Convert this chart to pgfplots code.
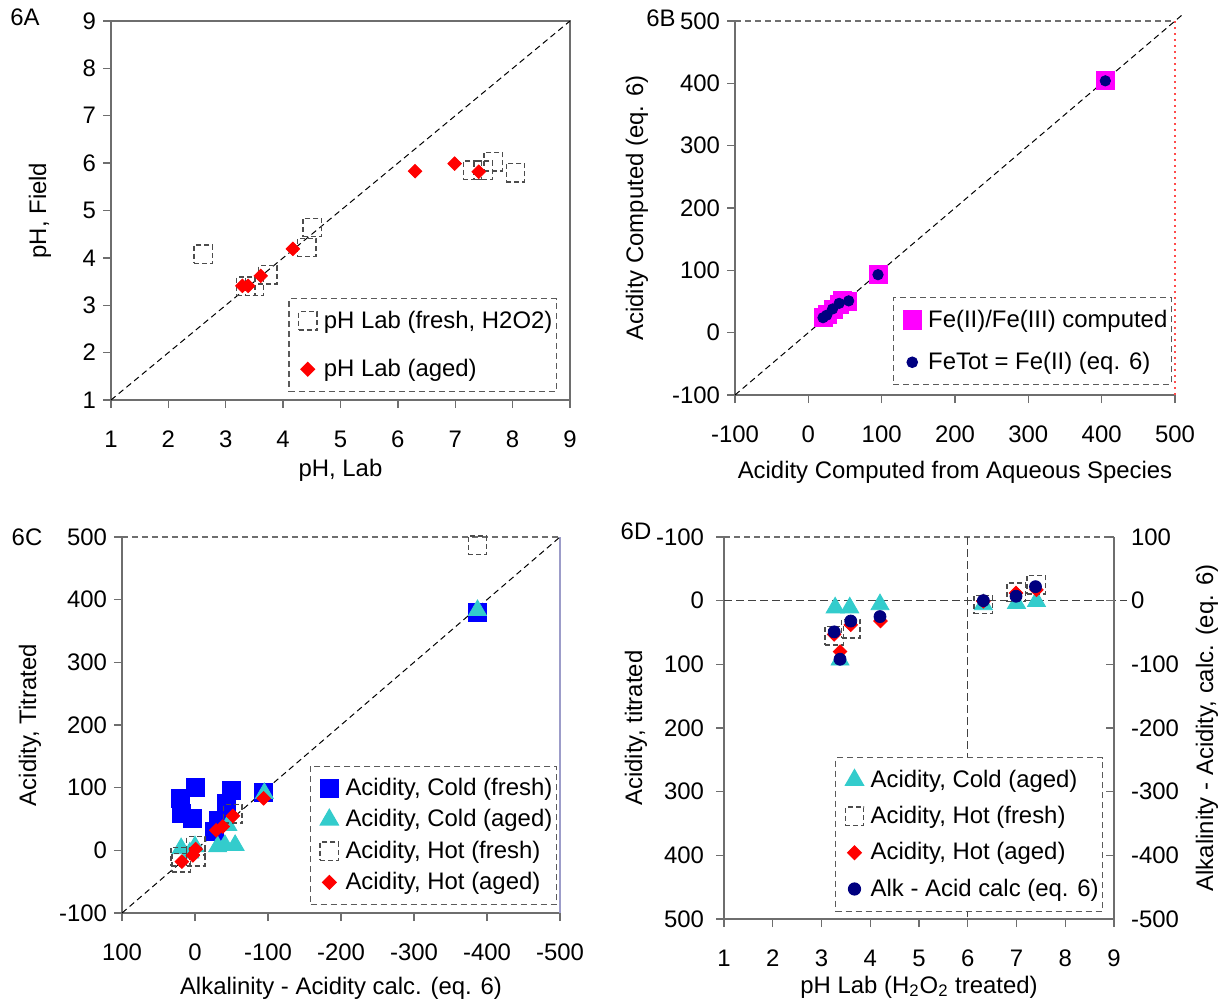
\documentclass[border=0pt]{standalone}
\usepackage{fontspec}
\setmainfont{Liberation Sans}
\usepackage{pgfplots}
\pgfplotsset{compat=1.18}
\usetikzlibrary{calc}
\newcommand\fs{\fontsize{11.95}{14}\selectfont}
\definecolor{axgray}{RGB}{110,110,110}
\definecolor{tcyan}{RGB}{51,204,204}
\definecolor{navyc}{RGB}{0,0,128}
\definecolor{lgray}{RGB}{90,90,90}
\definecolor{magc}{RGB}{255,0,255}
\pgfplotsset{
 excel/.style={
  scale only axis, anchor=south west, clip=false,
  axis line style={draw=axgray, line width=0.7pt, -},
  every tick/.style={draw=axgray, line width=0.7pt},
  major tick length=4pt, tick align=outside,
  ticklabel style={font=\fs},
  xticklabel style={yshift=-8pt},
  /pgf/number format/assume math mode=true,
  label style={font=\fs},
  legend cell align=left,
  legend image code/.code={\path (-0.07cm,0cm) (0.39cm,0cm); \draw[##1] plot coordinates {(0.25cm,0cm)};},
  legend style={draw=lgray, dash pattern=on 3pt off 2pt, line width=0.6pt, fill=white,
    font=\fs, cells={anchor=west, inner ysep=1pt, inner xsep=0pt}, inner ysep=4pt, inner xsep=0pt,
    column sep=1.5pt},
 },
 fresh/.style={only marks, mark=square, mark size=4.6pt,
   mark options={draw=black!70, dash pattern=on 2.5pt off 1.5pt, line width=0.7pt, fill=none}},
 aged/.style={only marks, mark=square*, mark size=2.4pt,
   mark options={solid, rotate=45, draw=red, fill=red}},
 coldf/.style={only marks, mark=square*, mark size=4.5pt,
   mark options={solid, draw=blue, fill=blue}},
 colda/.style={only marks, mark=triangle*, mark size=5.2pt,
   mark options={solid, draw=tcyan, fill=tcyan}},
 calc/.style={only marks, mark=*, mark size=3pt,
   mark options={solid, draw=navyc, fill=navyc}},
 refline/.style={black, line width=0.5pt, dash pattern=on 3pt off 2pt, forget plot},
}
\begin{document}
\begin{tikzpicture}
\useasboundingbox (0,0) rectangle (611pt,501.5pt);
% ---------------- 6A
\begin{axis}[excel, at={(55.5pt,301.5pt)}, width=229.5pt, height=189.5pt,
  xtick pos=left, ytick pos=left,
  xmin=1, xmax=9, ymin=1, ymax=9, xtick={1,...,9}, ytick={1,...,9},
  xlabel={pH, Lab}, ylabel={pH, Field},
  xlabel style={at={(axis description cs:0.5,0)}, anchor=center, yshift=-35pt},
  ylabel style={at={(axis description cs:0,0.5)}, anchor=center, yshift=35.5pt},
  legend style={at={(0.9717,0.0211)}, anchor=south east, row sep=10pt}]
\addplot[refline] coordinates {(1,1) (9,9)};
\addplot[fresh] coordinates {(2.61,4.08) (3.35,3.40) (3.50,3.40) (3.73,3.64) (4.41,4.22) (4.51,4.64)
  (7.30,5.85) (7.49,5.85) (7.66,6.03) (8.05,5.80)};
\addplot[aged] coordinates {(3.29,3.41) (3.39,3.41) (3.61,3.62) (4.17,4.19) (6.30,5.83) (6.99,5.99) (7.41,5.82)};
\legend{{pH Lab (fresh, H2O2)}, {pH Lab (aged)}}
\end{axis}
\node[font=\fs] at (12.5pt,492.75pt) {6A};
% ---------------- 6B
\begin{axis}[excel, at={(367.5pt,304pt)}, width=220pt, height=187pt,
  axis x line*=bottom, axis y line*=left,
  xmin=-100, xmax=500, ymin=-100, ymax=500,
  xtick={-100,0,...,500}, ytick={-100,0,...,500},
  xlabel={Acidity Computed from Aqueous Species}, ylabel={Acidity Computed (eq. 6)},
  xlabel style={at={(axis description cs:0.5,0)}, anchor=center, yshift=-38.5pt},
  ylabel style={at={(axis description cs:0,0.5)}, anchor=center, yshift=49pt},
  legend style={at={(0.993,0.0267)}, anchor=south east, row sep=7pt}]
\draw[axgray, line width=0.6pt, dash pattern=on 3pt off 2pt] (rel axis cs:0,1) -- (rel axis cs:1,1);
\draw[red!70, line width=0.6pt, dash pattern=on 1pt off 2pt] (rel axis cs:1,0) -- (rel axis cs:1,1);
\addplot[refline] coordinates {(-100,-100) (510,510)};
\addplot[only marks, mark=square*, mark size=4.5pt, mark options={solid, draw=magc, fill=magc}]
  coordinates {(20,24) (26,30) (34,38) (43,46) (53,50) (47,52) (95,93) (405,404)};
\addplot[calc, mark size=2.6pt] coordinates {(20,24) (25,28) (33,38) (42,47) (55,51) (95,93) (405,404)};
\legend{{Fe(II)/Fe(III) computed}, {FeTot = Fe(II) (eq. 6)}}
\end{axis}
\node[font=\fs] at (330.5pt,492.5pt) {6B};
% ---------------- 6C
\begin{axis}[excel, at={(61pt,45pt)}, width=219pt, height=188pt,
  axis x line*=bottom, axis y line*=left, x dir=reverse,
  xmin=-500, xmax=100, ymin=-100, ymax=500,
  xtick={-500,-400,...,100}, ytick={-100,0,...,500},
  xlabel={Alkalinity - Acidity calc. (eq. 6)}, ylabel={Acidity, Titrated},
  xlabel style={at={(axis description cs:0.5,0)}, anchor=center, yshift=-37.5pt},
  ylabel style={at={(axis description cs:0,0.5)}, anchor=center, yshift=46pt},
  legend style={at={(0.993,0.021)}, anchor=south east, row sep=1.5pt}]
\draw[axgray, line width=0.6pt, dash pattern=on 3pt off 2pt] (rel axis cs:0,1) -- (rel axis cs:1,1);
\draw[blue!30!gray!60, line width=0.6pt] (rel axis cs:1,0) -- (rel axis cs:1,1);
\addplot[refline] coordinates {(100,-100) (-500,500)};
\addplot[coldf] coordinates {(0,101) (20,83) (18,59) (4,51) (-50,96) (-43,75) (-32,48) (-27,30) (-94,93) (-387,380)};
\addplot[colda] coordinates {(19,3) (0,6) (7,-4) (-31,6) (-41,8) (-55,8) (-45,40) (-95,91) (-387,383)};
\addplot[fresh] coordinates {(19,-20) (20,-10) (-1,7) (-1,-10) (-52,58) (-387,487)};
\addplot[aged] coordinates {(18,-18) (3,-8) (-1,2) (-29,32) (-38,38) (-52,55) (-94,83)};
\legend{{Acidity, Cold (fresh)}, {Acidity, Cold (aged)}, {Acidity, Hot (fresh)}, {Acidity, Hot (aged)}}
\end{axis}
\node[font=\fs] at (13.5pt,233pt) {6C};
% ---------------- 6D
\begin{axis}[excel, at={(362pt,42pt)}, width=195pt, height=191pt,
  axis x line*=bottom, axis y line*=left, y dir=reverse,
  xmin=1, xmax=9, ymin=-100, ymax=500,
  xtick={1,...,9}, ytick={-100,0,...,500},
  yticklabel style={xshift=-2.5pt},
  xlabel={pH Lab (H\textsubscript{2}O\textsubscript{2} treated)}, ylabel={Acidity, titrated},
  xlabel style={at={(axis description cs:0.5,0)}, anchor=center, yshift=-34pt},
  ylabel style={at={(axis description cs:0,0.5)}, anchor=center, yshift=44pt},
  legend style={at={(0.9726,0.019)}, anchor=south east, row sep=4pt}]
\draw[axgray, line width=0.6pt, dash pattern=on 3pt off 2pt] (rel axis cs:0,1) -- (rel axis cs:1,1);
\draw[axgray, line width=0.7pt] (rel axis cs:1,0) -- (rel axis cs:1,1);
\addplot[refline, axgray!60!black, dash pattern=on 4pt off 2pt] coordinates {(6,-100) (6,500)};
\addplot[refline, axgray!60!black, dash pattern=on 4pt off 2pt] coordinates {(1,0) (9.27,0)};
\addplot[colda] coordinates {(3.28,11) (3.58,11) (4.2,6) (3.38,93) (6.32,6) (7.0,4) (7.41,1)};
\addplot[fresh] coordinates {(3.26,55) (3.60,44) (6.32,6) (6.99,-13) (7.40,-25)};
\addplot[aged] coordinates {(3.26,53) (3.38,80) (3.60,38) (4.21,32) (6.32,1) (6.99,-12) (7.41,-17)};
\addplot[calc] coordinates {(3.26,49) (3.38,92) (3.60,32) (4.2,25) (6.32,0) (6.99,-7) (7.39,-22)};
\legend{{Acidity, Cold (aged)}, {Acidity, Hot (fresh)}, {Acidity, Hot (aged)}, {Alk - Acid calc (eq. 6)}}
\end{axis}
\begin{axis}[excel, at={(362pt,42pt)}, width=195pt, height=191pt,
  axis x line=none, axis y line*=right, ytick pos=right, yticklabel pos=right, tick align=inside,
  xmin=1, xmax=9, ymin=-500, ymax=100, ytick={-500,-400,...,100},
  yticklabel style={anchor=west, xshift=5pt},
  ylabel={Alkalinity - Acidity, calc. (eq. 6)},
  ylabel style={at={($(axis description cs:1,0.5)+(46.5pt,0)$)}, anchor=center}]
\end{axis}
\node[font=\fs] at (318pt,236pt) {6D};
\end{tikzpicture}
\end{document}
